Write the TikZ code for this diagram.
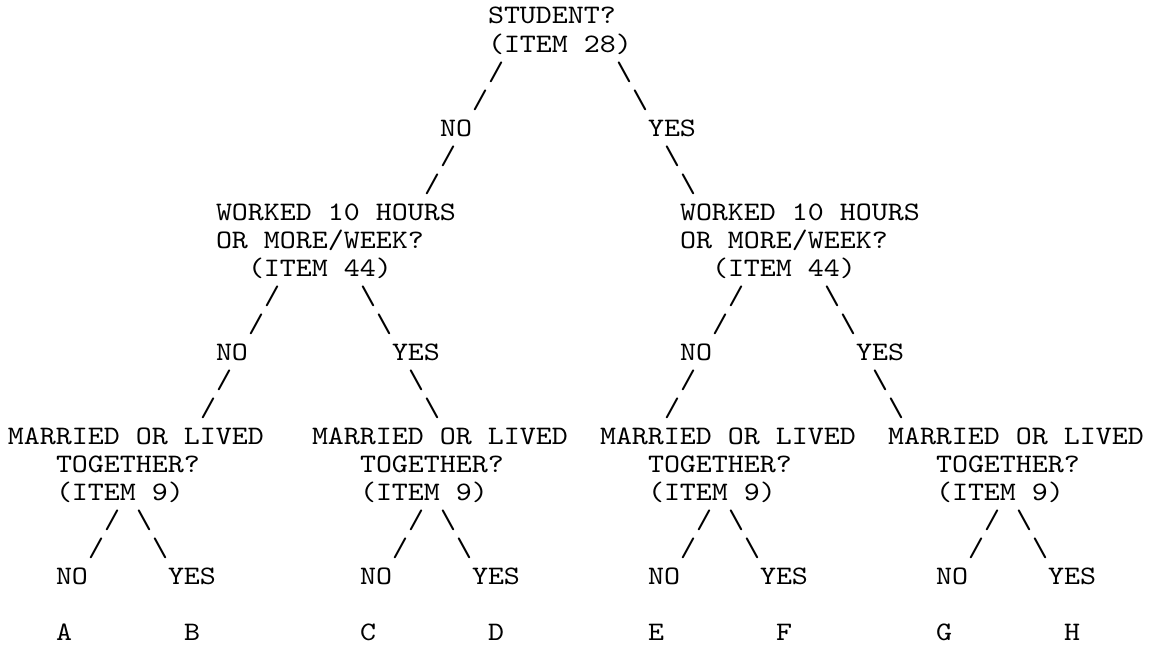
\documentclass[tikz,border=0pt]{standalone}
\usepackage{fontspec}
\newfontfamily\asciifont{lmmono10-regular}[Extension=.otf,FakeStretch=1.1428]
\tikzset{
  tok/.style={anchor=base west,inner sep=0pt,outer sep=0pt,font=\asciifont\fontsize{13.33pt}{14pt}\selectfont}
}
\newcommand\tok[4]{\node[tok] (#1) at ({(#2)*8pt},{-(#3)*14pt}) {#4};}
\newcommand\bs{\textbackslash}
\begin{document}
\begin{tikzpicture}
\fill[white] (-4pt,12pt) rectangle (571.5pt,-312pt);
\useasboundingbox (-4pt,12pt) rectangle (571.5pt,-312pt);
% root
\tok{root}{30}{0}{STUDENT?}
\tok{rootitem}{30}{1}{(ITEM 28)}
\tok{r2l}{30}{2}{/}\tok{r2r}{38}{2}{\bs}
\tok{r3l}{29}{3}{/}\tok{r3r}{39}{3}{\bs}
\tok{rno}{27}{4}{NO}\tok{ryes}{40}{4}{YES}
\tok{r5l}{27}{5}{/}\tok{r5r}{41}{5}{\bs}
\tok{r6l}{26}{6}{/}\tok{r6r}{42}{6}{\bs}
% level 2
\tok{wl1}{13}{7}{WORKED 10 HOURS}\tok{wr1}{42}{7}{WORKED 10 HOURS}
\tok{wl2}{13}{8}{OR MORE/WEEK?}\tok{wr2}{42}{8}{OR MORE/WEEK?}
\tok{wl3}{15}{9}{(ITEM 44)}\tok{wr3}{44}{9}{(ITEM 44)}
\tok{a10}{16}{10}{/}\tok{b10}{22}{10}{\bs}\tok{c10}{45}{10}{/}\tok{d10}{51}{10}{\bs}
\tok{a11}{15}{11}{/}\tok{b11}{23}{11}{\bs}\tok{c11}{44}{11}{/}\tok{d11}{52}{11}{\bs}
\tok{lno}{13}{12}{NO}\tok{lyes}{24}{12}{YES}\tok{rno2}{42}{12}{NO}\tok{ryes2}{53}{12}{YES}
\tok{a13}{13}{13}{/}\tok{b13}{25}{13}{\bs}\tok{c13}{42}{13}{/}\tok{d13}{54}{13}{\bs}
\tok{a14}{12}{14}{/}\tok{b14}{26}{14}{\bs}\tok{c14}{41}{14}{/}\tok{d14}{55}{14}{\bs}
% level 3
\foreach \o/\n/\p/\q in {0/1/A/B,19/2/C/D,37/3/E/F,55/4/G/H}{
  \tok{m\n}{\o}{15}{MARRIED OR LIVED}
  \tok{t\n}{\o+3}{16}{TOGETHER?}
  \tok{i\n}{\o+3}{17}{(ITEM 9)}
  \tok{s\n a}{\o+6}{18}{/}\tok{s\n b}{\o+8}{18}{\bs}
  \tok{u\n a}{\o+5}{19}{/}\tok{u\n b}{\o+9}{19}{\bs}
  \tok{no\n}{\o+3}{20}{NO}\tok{yes\n}{\o+10}{20}{YES}
  \tok{leaf\p}{\o+3}{22}{\p}\tok{leaf\q}{\o+11}{22}{\q}
}
\end{tikzpicture}
\end{document}
